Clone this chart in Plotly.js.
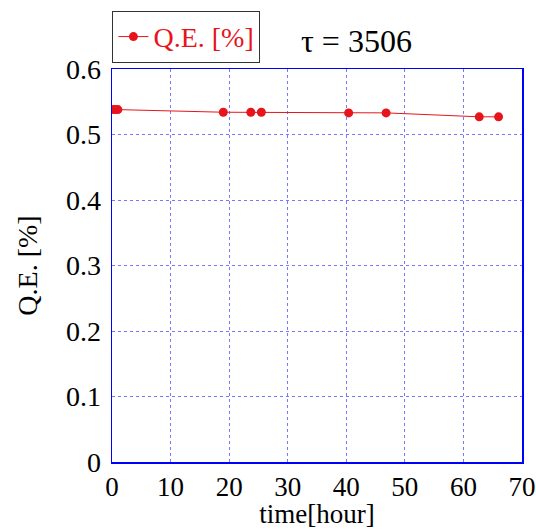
<!DOCTYPE html>
<html>
<head>
<meta charset="utf-8">
<script src="https://cdn.plot.ly/plotly-3.0.1.min.js"></script>
<style>html,body{margin:0;padding:0;background:#fff;}#chart{width:536px;height:529px;}</style>
</head>
<body>
<div id="chart"></div>
<script>
var timeHours = [0, 0.5, 1.0, 19.0, 23.7, 25.5, 40.4, 46.8, 62.7, 66.0];
var qeValues = [0.538, 0.538, 0.538, 0.534, 0.534, 0.534, 0.533, 0.533, 0.527, 0.527];
var seriesName = 'Q.E. [%]';
var xTicks = [0, 10, 20, 30, 40, 50, 60, 70];
var yTicks = [0, 0.1, 0.2, 0.3, 0.4, 0.5, 0.6];
var yTickText = ['0', '0.1', '0.2', '0.3', '0.4', '0.5', '0.6'];

var font = 'Liberation Serif';
var trace = {
  x: timeHours, y: qeValues, name: seriesName,
  type: 'scatter', mode: 'lines+markers',
  line: {color: '#e8141b', width: 1},
  marker: {color: '#e8141b', size: 9, symbol: 'circle'},
  showlegend: true
};
var layout = {
  width: 536, height: 529,
  margin: {l: 112, r: 14, t: 68, b: 67},
  paper_bgcolor: '#fff', plot_bgcolor: '#fff',
  font: {family: font, size: 28, color: '#000'},
  showlegend: true,
  legend: {
    x: 0.001, y: 1.145, xanchor: 'left', yanchor: 'top',
    bordercolor: '#333', borderwidth: 1, bgcolor: '#fff',
    font: {family: font, size: 28, color: '#e8141b'},
    itemwidth: 30
  },
  xaxis: {
    range: [0, 70], tickvals: xTicks, ticktext: xTicks.map(String),
    showgrid: true, gridcolor: '#7777ff', griddash: 'dot', gridwidth: 1,
    showline: true, linecolor: '#0000ff', linewidth: 1.5, mirror: true,
    zeroline: false, ticks: '', tickfont: {family: font, size: 27, color: '#000'},
    title: {text: 'time[hour]', font: {family: font, size: 27, color: '#000'}, standoff: 7}
  },
  yaxis: {
    range: [0, 0.6], tickvals: yTicks, ticktext: yTickText,
    showgrid: true, gridcolor: '#7777ff', griddash: 'dot', gridwidth: 1,
    showline: true, linecolor: '#0000ff', linewidth: 1.5, mirror: true,
    zeroline: false, ticks: '', ticklabelstandoff: 4,
    tickfont: {family: font, size: 28, color: '#000'},
    title: {text: 'Q.E. [%]', font: {family: font, size: 28, color: '#000'}, standoff: 20}
  },
  annotations: [{
    text: 'τ = 3506', xref: 'paper', yref: 'paper', x: 0.596, y: 1.07,
    xanchor: 'center', yanchor: 'middle', showarrow: false,
    font: {family: font, size: 32, color: '#000'}
  }]
};
Plotly.newPlot('chart', [trace], layout, {displayModeBar: false, staticPlot: true});
</script>
</body>
</html>
